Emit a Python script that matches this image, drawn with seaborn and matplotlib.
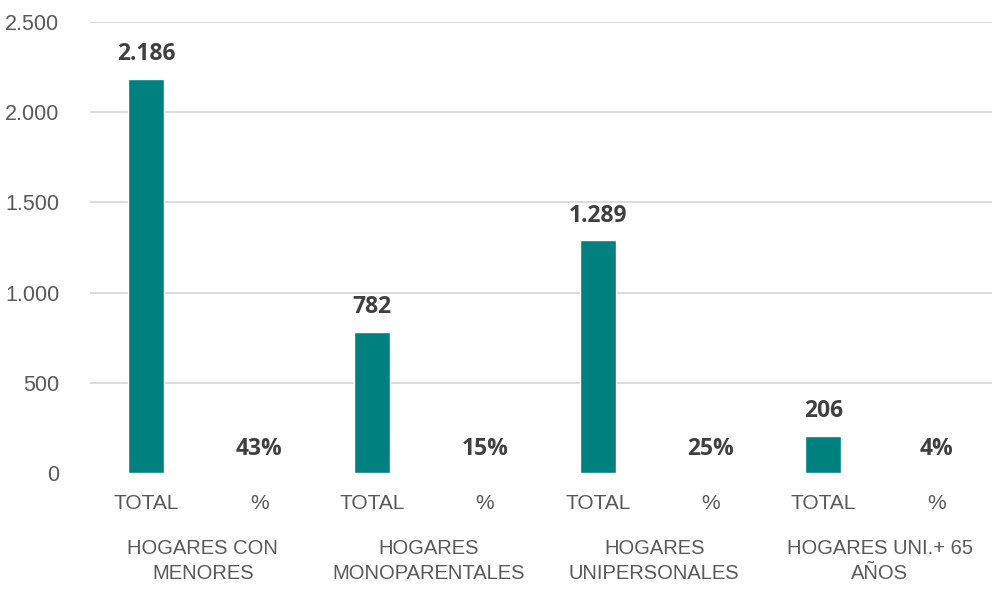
import matplotlib
matplotlib.use("Agg")
import matplotlib.pyplot as plt
import seaborn as sns
from matplotlib.ticker import FuncFormatter

# data
keys = ["t1", "p1", "t2", "p2", "t3", "p3", "t4", "p4"]
bar_labels = ["TOTAL", "%", "TOTAL", "%", "TOTAL", "%", "TOTAL", "%"]
values = [2186, 0.43, 782, 0.15, 1289, 0.25, 206, 0.04]
value_text = ["2.186", "43%", "782", "15%", "1.289", "25%", "206", "4%"]
groups = ["HOGARES CON\nMENORES", "HOGARES\nMONOPARENTALES",
          "HOGARES\nUNIPERSONALES", "HOGARES UNI.+ 65\nAÑOS"]

sns.set_style("white")
plt.rcParams["font.family"] = ["Liberation Sans", "DejaVu Sans"]

fig = plt.figure(figsize=(9.92, 5.9), dpi=100)
ax = fig.add_axes([0.0907, 0.198, 0.91, 0.765])

sns.barplot(x=keys, y=values, color="#00807F", width=0.32, saturation=1,
            ax=ax, zorder=3)

ax.set_xlim(-0.5, 7.5)
ax.set_ylim(0, 2500)
ax.set_yticks([0, 500, 1000, 1500, 2000, 2500])
ax.yaxis.set_major_formatter(FuncFormatter(lambda v, p: f"{int(v):,}".replace(",", ".")))
for y in [500, 1000, 1500, 2000, 2500]:
    ax.axhline(y, color="#d9d9d9", lw=1.3, zorder=1)
sns.despine(ax=ax, left=True, bottom=True)

ax.set_xticks(range(len(keys)))
ax.set_xticklabels(bar_labels)
ax.tick_params(axis="x", length=0, pad=15, labelsize=15, labelcolor="#595959")
ax.tick_params(axis="y", length=0, pad=22, labelsize=15.5, labelcolor="#595959")
ax.set_xlabel("")
ax.set_ylabel("")

# value labels
for i, (v, t) in enumerate(zip(values, value_text)):
    ax.annotate(t, (i, v), xytext=(0, 9), textcoords="offset points",
                ha="center", va="bottom", fontsize=16.5, fontweight="bold",
                color="#404040", family=["Open Sans", "DejaVu Sans"])

# group labels
for g, name in enumerate(groups):
    ax.text(2 * g + 0.5, -0.145, name, transform=ax.get_xaxis_transform(),
            ha="center", va="top", fontsize=14.5, color="#595959",
            linespacing=1.4)

fig.savefig("out.png", dpi=100)
